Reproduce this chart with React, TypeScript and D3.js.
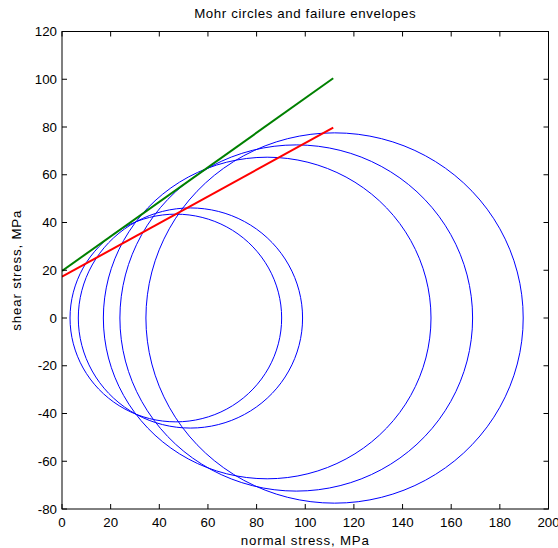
import React from "react";
import * as d3 from "d3";

const xTicks = [0, 20, 40, 60, 80, 100, 120, 140, 160, 180, 200];
const yTicks = [-80, -60, -40, -20, 0, 20, 40, 60, 80, 100, 120];

// Mohr circles: minor and major principal stress (MPa)
const sigma3 = [3.3, 6.7, 17.0, 23.8, 34.5];
const sigma1 = [90.3, 98.9, 151.7, 168.8, 189.6];

// Failure envelopes
const envelopeSigma = [0, 111.5];
const envelopeGreen = [19.7, 100.4];
const envelopeRed = [17.3, 79.7];

const W = 558;
const H = 548;
const M = { left: 62, right: 548.5, top: 31.5, bottom: 509 };
const FONT = "'Liberation Sans', Arial, Helvetica, sans-serif";

export default function App() {
  const x = d3.scaleLinear().domain([0, 200]).range([M.left, M.right]);
  const y = d3.scaleLinear().domain([-80, 120]).range([M.bottom, M.top]);
  const line = d3
    .line<[number, number]>()
    .x((d) => x(d[0]))
    .y((d) => y(d[1]));

  const angles = d3.range(0, 101).map((i) => (i / 100) * 2 * Math.PI);
  const circles = sigma3.map((s3, i) => {
    const c = (s3 + sigma1[i]) / 2;
    const r = (sigma1[i] - s3) / 2;
    return angles.map((a) => [c + r * Math.cos(a), r * Math.sin(a)] as [number, number]);
  });

  const green = envelopeSigma.map((s, i) => [s, envelopeGreen[i]] as [number, number]);
  const red = envelopeSigma.map((s, i) => [s, envelopeRed[i]] as [number, number]);

  const tl = 5;
  return (
    <svg
      width={W}
      height={H}
      style={{ position: "absolute", left: 0, top: 0, background: "#fff" }}
      fontFamily={FONT}
    >
      <rect x={0} y={0} width={W} height={H} fill="#fff" />
      <defs>
        <clipPath id="plotclip">
          <rect x={M.left} y={M.top} width={M.right - M.left} height={M.bottom - M.top} />
        </clipPath>
      </defs>
      <g clipPath="url(#plotclip)">
        {circles.map((pts, i) => (
          <path key={i} d={line(pts) || ""} fill="none" stroke="#0000ff" strokeWidth={1} />
        ))}
        <path d={line(green) || ""} fill="none" stroke="#008000" strokeWidth={2} />
        <path d={line(red) || ""} fill="none" stroke="#ff0000" strokeWidth={2} />
      </g>
      <rect
        x={M.left}
        y={M.top}
        width={M.right - M.left}
        height={M.bottom - M.top}
        fill="none"
        stroke="#000"
        strokeWidth={1}
      />
      {xTicks.map((t) => (
        <g key={"x" + t}>
          <line x1={x(t)} x2={x(t)} y1={M.bottom} y2={M.bottom - tl} stroke="#000" />
          <line x1={x(t)} x2={x(t)} y1={M.top} y2={M.top + tl} stroke="#000" />
          <text x={x(t)} y={527} textAnchor="middle" fontSize={13.3} fill="#000">
            {t}
          </text>
        </g>
      ))}
      {yTicks.map((t) => (
        <g key={"y" + t}>
          <line x1={M.left} x2={M.left + tl} y1={y(t)} y2={y(t)} stroke="#000" />
          <line x1={M.right} x2={M.right - tl} y1={y(t)} y2={y(t)} stroke="#000" />
          <text x={57} y={y(t) + 4.5} textAnchor="end" fontSize={13.3} fill="#000">
            {t}
          </text>
        </g>
      ))}
      <text
        x={(M.left + M.right) / 2}
        y={17.5}
        textAnchor="middle"
        fontSize={13.3}
        letterSpacing={0.6}
        fill="#000"
      >
        Mohr circles and failure envelopes
      </text>
      <text
        x={(M.left + M.right) / 2}
        y={545}
        textAnchor="middle"
        fontSize={13.3}
        letterSpacing={0.8}
        fill="#000"
      >
        normal stress, MPa
      </text>
      <text
        transform={`translate(21, ${(M.top + M.bottom) / 2}) rotate(-90)`}
        textAnchor="middle"
        fontSize={13.3}
        letterSpacing={0.8}
        fill="#000"
      >
        shear stress, MPa
      </text>
    </svg>
  );
}
